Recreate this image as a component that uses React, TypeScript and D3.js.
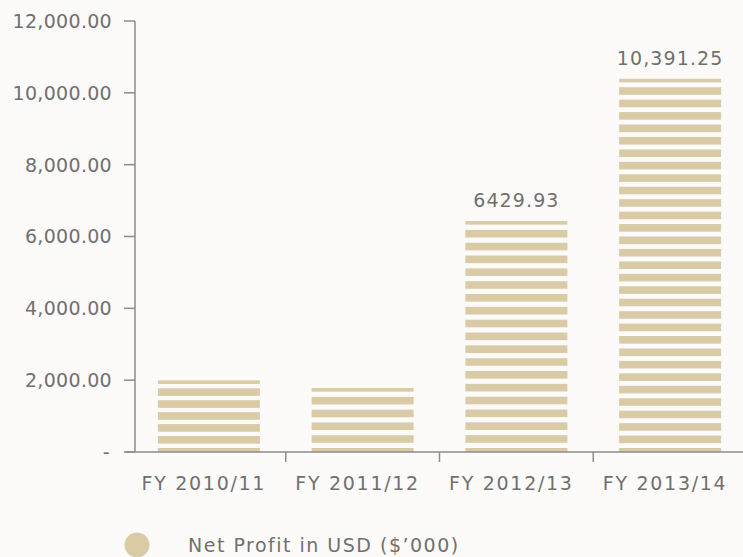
import React from "react";
import * as d3 from "d3";

// Net profit by financial year, USD thousands
const categories = ["FY 2010/11", "FY 2011/12", "FY 2012/13", "FY 2013/14"];
const netProfit = [1995, 1780, 6429.93, 10391.25];
const valueLabels = ["", "", "6429.93", "10,391.25"];
const yTicks = [0, 2000, 4000, 6000, 8000, 10000, 12000];
const legendLabel = "Net Profit in USD ($’000)";

const W = 743;
const H = 557;
const BG = "#fcfbf9";
const BAR = "#d9cba6";
const AXIS = "#8c8c8c";
const TEXT = "#707070";
const FONT = "'DejaVu Sans', sans-serif";

export default function App() {
  const y = d3.scaleLinear().domain([0, 12000]).range([452, 21]);
  const x = d3.scaleBand<string>().domain(categories).range([132, 747]).padding(0);
  const barW = 102;
  const y0 = y(0);
  const fmt = d3.format(",.2f");

  // horizontal stripes filling each bar: a whole number of periods per bar,
  // with a partial stripe at the top and at the baseline
  const thick = 7.6;
  const stripesFor = (v: number) => {
    const top = y(v);
    const h = y0 - top;
    const n = Math.max(1, Math.round(h / 12.65));
    const period = h / n;
    const out: { y1: number; y2: number }[] = [];
    for (let k = 0; k <= n; k++) {
      const s = y0 - 4 - k * period;
      const e = Math.min(s + thick, y0);
      if (e <= top) break;
      out.push({ y1: Math.max(s, top), y2: e });
    }
    return out;
  };

  return (
    <div style={{ position: "fixed", left: 0, top: 0, width: W, height: H }}>
      <svg width={W} height={H} style={{ display: "block" }}>
        <rect x={0} y={0} width={W} height={H} fill={BG} />

        {/* y axis */}
        <line x1={135} x2={135} y1={y(12000)} y2={y0} stroke={AXIS} strokeWidth={1.5} />
        {yTicks.map((t) => (
          <g key={t}>
            <line x1={124} x2={135} y1={y(t)} y2={y(t)} stroke={AXIS} strokeWidth={1.5} />
            <text
              x={t === 0 ? 110 : 112}
              y={y(t)}
              dy="0.36em"
              textAnchor="end"
              fontFamily={FONT}
              fontSize={19}
              letterSpacing={0.3}
              fill={TEXT}
            >
              {t === 0 ? "-" : fmt(t)}
            </text>
          </g>
        ))}

        {/* bars */}
        {categories.map((c, i) => {
          const cx = (x(c) as number) + x.bandwidth() / 2;
          return (
            <g key={c}>
              {stripesFor(netProfit[i]).map((s, j) => (
                <rect
                  key={j}
                  x={cx - barW / 2}
                  y={s.y1}
                  width={barW}
                  height={s.y2 - s.y1}
                  fill={BAR}
                />
              ))}
              {valueLabels[i] && (
                <text
                  x={cx}
                  y={y(netProfit[i]) - 14}
                  textAnchor="middle"
                  fontFamily={FONT}
                  fontSize={19}
                  letterSpacing={1.1}
                  fill={TEXT}
                >
                  {valueLabels[i]}
                </text>
              )}
            </g>
          );
        })}

        {/* x axis */}
        <line x1={125} x2={W} y1={y0} y2={y0} stroke={AXIS} strokeWidth={1.5} />
        {categories.slice(1).map((c) => (
          <line
            key={c}
            x1={x(c) as number}
            x2={x(c) as number}
            y1={y0}
            y2={y0 + 10}
            stroke={AXIS}
            strokeWidth={1.5}
          />
        ))}
        {categories.map((c) => (
          <text
            key={c}
            x={(x(c) as number) + x.bandwidth() / 2 - 5}
            y={490}
            textAnchor="middle"
            fontFamily={FONT}
            fontSize={19}
            letterSpacing={1.7}
            fill={TEXT}
          >
            {c}
          </text>
        ))}

        {/* legend */}
        <circle cx={137} cy={545} r={12.5} fill={BAR} />
        <text
          x={188}
          y={552}
          fontFamily={FONT}
          fontSize={19}
          letterSpacing={1.5}
          fill={TEXT}
        >
          {legendLabel}
        </text>
      </svg>
    </div>
  );
}
